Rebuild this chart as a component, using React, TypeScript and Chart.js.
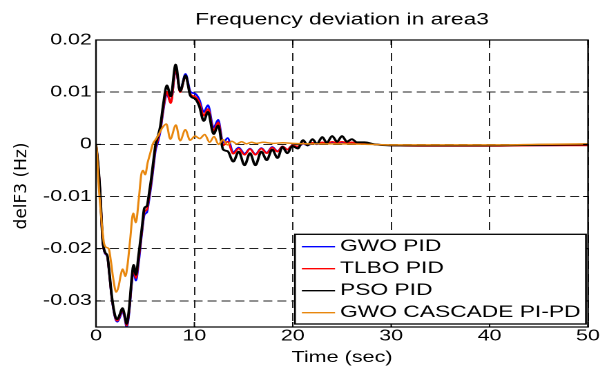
import React, { useEffect, useRef } from 'react';
import { Chart, registerables } from 'chart.js';

Chart.register(...registerables);

const FONT = '"Liberation Sans", Arial, Helvetica, sans-serif';
const CANVAS_W = 441;
const CANVAS_H = 366;
const STRETCH = 609 / CANVAS_W;

const chartTitle = 'Frequency deviation in area3';
const xTitle = 'Time (sec)';
const yTitle = 'delF3 (Hz)';
const xTicks = [0, 10, 20, 30, 40, 50];
const yTicks = [-0.03, -0.02, -0.01, 0, 0.01, 0.02];
const seriesLabels = ['GWO PID', 'TLBO PID', 'PSO PID', 'GWO CASCADE PI-PD'];
const seriesColors = ['#0000ff', '#ff0000', '#000000', '#e8870e'];

const pidTime = [0, 0.15, 0.41, 0.68, 0.92, 1.15, 1.36, 1.6, 1.95, 2.17,
  2.44, 2.68, 2.9, 3.12, 3.36, 3.63, 3.82, 4.06, 4.33, 4.67,
  4.92, 5.18, 5.35, 5.6, 5.85, 6.05, 6.3, 6.55, 6.85, 7.2,
  7.6, 8.1, 8.55, 9.1, 9.6, 10.1, 10.5, 10.95, 11.38, 11.95,
  12.42, 12.92, 13.38, 13.95, 14.5, 15.1, 15.65, 16.2, 16.8, 17.35,
  17.9, 18.45, 18.95, 19.45, 19.95, 20.5, 21.05, 21.5, 22.0, 22.45,
  23.0, 23.45, 24.0, 24.5, 25.0, 25.5, 26.0, 26.5, 27.3, 28.3,
  30, 35, 40, 45, 50];

const gwoPid = [0, -0.0025, -0.0088, -0.0185, -0.0209, -0.0215, -0.0249, -0.0294, -0.0333, -0.0340,
  -0.0331, -0.0319, -0.0332, -0.0350, -0.0325, -0.0268, -0.0242, -0.0261, -0.0228, -0.0170,
  -0.0135, -0.0130, -0.0112, -0.0080, -0.0042, -0.0012, 0.0005, 0.0026, 0.0066, 0.0097,
  0.0080, 0.0142, 0.0103, 0.0135, 0.0101, 0.0097, 0.0086, 0.0062, 0.0075, 0.0032,
  0.0047, 0.0003, 0.0012, -0.0015, -0.0006, -0.0018, -0.0008, -0.0019, -0.0007, -0.0016,
  -0.0005, -0.0013, -0.0004, -0.0010, -0.0002, -0.0005, 0.0001, -0.0002, 0.0002, 0.0000,
  0.0003, 0.0001, 0.0004, 0.0002, 0.0004, 0.0002, 0.0003, 0.0002, 0.0002, 0.0000,
  -0.0002, -0.0002, -0.0002, -0.0002, -0.0001];

const tlboPid = [0, -0.0025, -0.0087, -0.0184, -0.0208, -0.0214, -0.0248, -0.0292, -0.0331, -0.0338,
  -0.0328, -0.0316, -0.0329, -0.0347, -0.0320, -0.0263, -0.0237, -0.0256, -0.0221, -0.0165,
  -0.0129, -0.0125, -0.0106, -0.0074, -0.0036, -0.0006, 0.0010, 0.0030, 0.0070, 0.0101,
  0.0079, 0.0145, 0.0100, 0.0130, 0.0096, 0.0091, 0.0080, 0.0055, 0.0068, 0.0026,
  0.0042, -0.0002, 0.0005, -0.0018, -0.0008, -0.0020, -0.0009, -0.0020, -0.0008, -0.0017,
  -0.0006, -0.0014, -0.0004, -0.0010, -0.0002, -0.0004, 0.0002, -0.0001, 0.0003, 0.0001,
  0.0004, 0.0002, 0.0005, 0.0003, 0.0005, 0.0003, 0.0004, 0.0002, 0.0002, 0.0000,
  -0.0002, -0.0003, -0.0003, -0.0002, -0.0002];

const psoPid = [0, -0.0025, -0.0087, -0.0183, -0.0207, -0.0213, -0.0246, -0.0290, -0.0329, -0.0335,
  -0.0325, -0.0314, -0.0326, -0.0344, -0.0316, -0.0258, -0.0231, -0.0250, -0.0213, -0.0160,
  -0.0122, -0.0118, -0.0100, -0.0068, -0.0030, -0.0001, 0.0016, 0.0036, 0.0078, 0.0113,
  0.0092, 0.0153, 0.0102, 0.0132, 0.0093, 0.0087, 0.0073, 0.0045, 0.0062, 0.0020,
  0.0036, -0.0010, -0.0013, -0.0033, -0.0014, -0.0040, -0.0017, -0.0040, -0.0014, -0.0030,
  -0.0010, -0.0026, -0.0005, -0.0017, -0.0003, -0.0008, 0.0008, -0.0002, 0.0010, 0.0001,
  0.0014, 0.0003, 0.0016, 0.0005, 0.0016, 0.0005, 0.0010, 0.0004, 0.0004, 0.0000,
  -0.0002, -0.0002, -0.0002, -0.0001, 0.0000];

const cascadeTime = [0, 0.1, 0.23, 0.41, 0.58, 0.8, 1.0, 1.3, 1.5, 1.76,
  2.05, 2.3, 2.5, 2.72, 2.98, 3.2, 3.46, 3.78, 4.05, 4.35,
  4.6, 4.78, 5.0, 5.25, 5.5, 5.8, 6.05, 6.35, 6.75, 7.15,
  7.55, 8.12, 8.55, 9.08, 9.56, 10.07, 10.55, 11.05, 11.55, 12.0,
  12.45, 12.9, 13.35, 13.8, 14.3, 14.8, 15.3, 15.8, 16.3, 17.0,
  18.0, 19.0, 20.0, 22.0, 25.0, 28.0, 30, 40, 45, 50];

const gwoCascade = [0, -0.0015, -0.0065, -0.0113, -0.0150, -0.0188, -0.0197, -0.0200, -0.0222, -0.0258,
  -0.0283, -0.0272, -0.0252, -0.0239, -0.0253, -0.0232, -0.0185, -0.0132, -0.0150, -0.0105,
  -0.0058, -0.0050, -0.0058, -0.0035, -0.0018, 0.0002, 0.0009, 0.0018, 0.0032, 0.0039,
  0.0010, 0.0037, 0.0007, 0.0028, 0.0008, 0.0016, 0.0011, 0.0019, 0.0004, 0.0015,
  0.0000, 0.0009, -0.0001, 0.0006, 0.0001, 0.0005, 0.0001, 0.0004, 0.0002, 0.0004,
  0.0002, 0.0003, 0.0002, 0.0001, 0.0001, 0.0000, -0.0001, -0.0001, 0.0000, 0.0001];

const toPoints = (ts: number[], vs: number[]) => ts.map((t, i) => ({ x: t, y: vs[i] }));

const fmtY = (v: number) => {
  const r = Math.round(v * 100) / 100;
  return r === 0 ? '0' : r.toFixed(2);
};

const framePlugin = {
  id: 'matlabFrame',
  afterDraw(chart: any) {
    const { ctx, chartArea, scales } = chart;
    const { left, top, right, bottom } = chartArea;
    const xs = scales.x;
    const ys = scales.y;
    ctx.save();
    ctx.strokeStyle = '#000';
    ctx.lineWidth = 1.2;
    ctx.setLineDash([]);
    ctx.strokeRect(left, top, right - left, bottom - top);
    ctx.lineWidth = 1;
    ctx.beginPath();
    xTicks.forEach((t) => {
      const px = xs.getPixelForValue(t);
      ctx.moveTo(px, bottom);
      ctx.lineTo(px, bottom - 5);
      ctx.moveTo(px, top);
      ctx.lineTo(px, top + 5);
    });
    yTicks.forEach((v) => {
      const py = ys.getPixelForValue(v);
      ctx.moveTo(left, py);
      ctx.lineTo(left + 3.6, py);
      ctx.moveTo(right, py);
      ctx.lineTo(right - 3.6, py);
    });
    ctx.stroke();

    const lw = 210.7;
    const lh = 89.7;
    const lx = right - 1.5 - lw;
    const ly = bottom - 3 - lh;
    ctx.fillStyle = '#fff';
    ctx.fillRect(lx, ly, lw, lh);
    ctx.lineWidth = 1.3;
    ctx.strokeStyle = '#000';
    ctx.strokeRect(lx, ly, lw, lh);
    ctx.font = `16.5px ${FONT}`;
    ctx.textAlign = 'left';
    ctx.textBaseline = 'middle';
    seriesLabels.forEach((label, i) => {
      const cy = ly + 12.4 + i * 22;
      ctx.strokeStyle = seriesColors[i];
      ctx.lineWidth = 1.3;
      ctx.beginPath();
      ctx.moveTo(lx + 5, cy);
      ctx.lineTo(lx + 29, cy);
      ctx.stroke();
      ctx.fillStyle = '#000';
      ctx.fillText(label, lx + 32.6, cy);
    });

    ctx.save();
    ctx.translate(15.9, (top + bottom) / 2 + 2.5);
    ctx.scale(1 / STRETCH, 1);
    ctx.rotate(-Math.PI / 2);
    ctx.font = '17px "DejaVu Sans", sans-serif';
    ctx.fillStyle = '#000';
    ctx.textAlign = 'center';
    ctx.textBaseline = 'middle';
    ctx.fillText(yTitle, 0, 0);
    ctx.restore();

    ctx.restore();
  },
};

export default function App() {
  const canvasRef = useRef<HTMLCanvasElement | null>(null);

  useEffect(() => {
    if (!canvasRef.current) return;
    const seriesData = [
      toPoints(pidTime, gwoPid),
      toPoints(pidTime, tlboPid),
      toPoints(pidTime, psoPid),
      toPoints(cascadeTime, gwoCascade),
    ];
    const widths = [1.6, 1.6, 1.9, 1.5];
    const orders = [4, 3, 2, 1];
    const chart = new Chart(canvasRef.current, {
      type: 'line',
      data: {
        datasets: seriesLabels.map((label, i) => ({
          label,
          data: seriesData[i],
          borderColor: seriesColors[i],
          backgroundColor: seriesColors[i],
          borderWidth: widths[i],
          pointRadius: 0,
          fill: false,
          cubicInterpolationMode: 'monotone' as const,
          order: orders[i],
        })),
      },
      options: {
        animation: false,
        responsive: false,
        devicePixelRatio: 2,
        parsing: false as any,
        layout: { padding: { left: 0, right: 15.2, top: 0, bottom: 0 } },
        plugins: {
          legend: { display: false },
          tooltip: { enabled: false },
          title: {
            display: true,
            text: chartTitle,
            color: '#000',
            fullSize: false,
            font: { family: FONT, size: 16.5, weight: 'normal', lineHeight: 1.2 },
            padding: { top: 10, bottom: 10.2 },
          },
        },
        scales: {
          x: {
            type: 'linear',
            min: 0,
            max: 50,
            afterBuildTicks: (s: any) => {
              s.ticks = xTicks.map((v) => ({ value: v }));
            },
            afterFit: (s: any) => {
              s.height = 39;
            },
            ticks: {
              color: '#000',
              font: { family: FONT, size: 15.5, lineHeight: 1.2 },
              padding: 0,
              maxRotation: 0,
              autoSkip: false,
              callback: (v: any) => String(v),
            },
            grid: { color: '#222', lineWidth: 1, drawTicks: false },
            border: { display: false, dash: [8, 5] },
            title: {
              display: true,
              text: xTitle,
              color: '#000',
              font: { family: FONT, size: 15.6, lineHeight: 1 },
              padding: { top: 0, bottom: 0.7 },
            },
          },
          y: {
            type: 'linear',
            min: -0.035,
            max: 0.02,
            afterBuildTicks: (s: any) => {
              s.ticks = yTicks.map((v) => ({ value: v }));
            },
            afterFit: (s: any) => {
              s.width = 69.5;
            },
            ticks: {
              color: '#000',
              font: { family: FONT, size: 15.5, lineHeight: 1.2 },
              padding: 3,
              autoSkip: false,
              callback: (v: any) => fmtY(Number(v)),
            },
            grid: { color: '#222', lineWidth: 1, drawTicks: false },
            border: { display: false, dash: [6.5, 3.6] },
          },
        },
      } as any,
      plugins: [framePlugin],
    });
    return () => chart.destroy();
  }, []);

  return (
    <div style={{ position: 'absolute', left: 0, top: 0, width: 609, height: 366, background: '#fff' }}>
      <canvas
        ref={canvasRef}
        width={CANVAS_W}
        height={CANVAS_H}
        style={{ width: '609px', height: '366px', display: 'block' }}
      />
    </div>
  );
}
